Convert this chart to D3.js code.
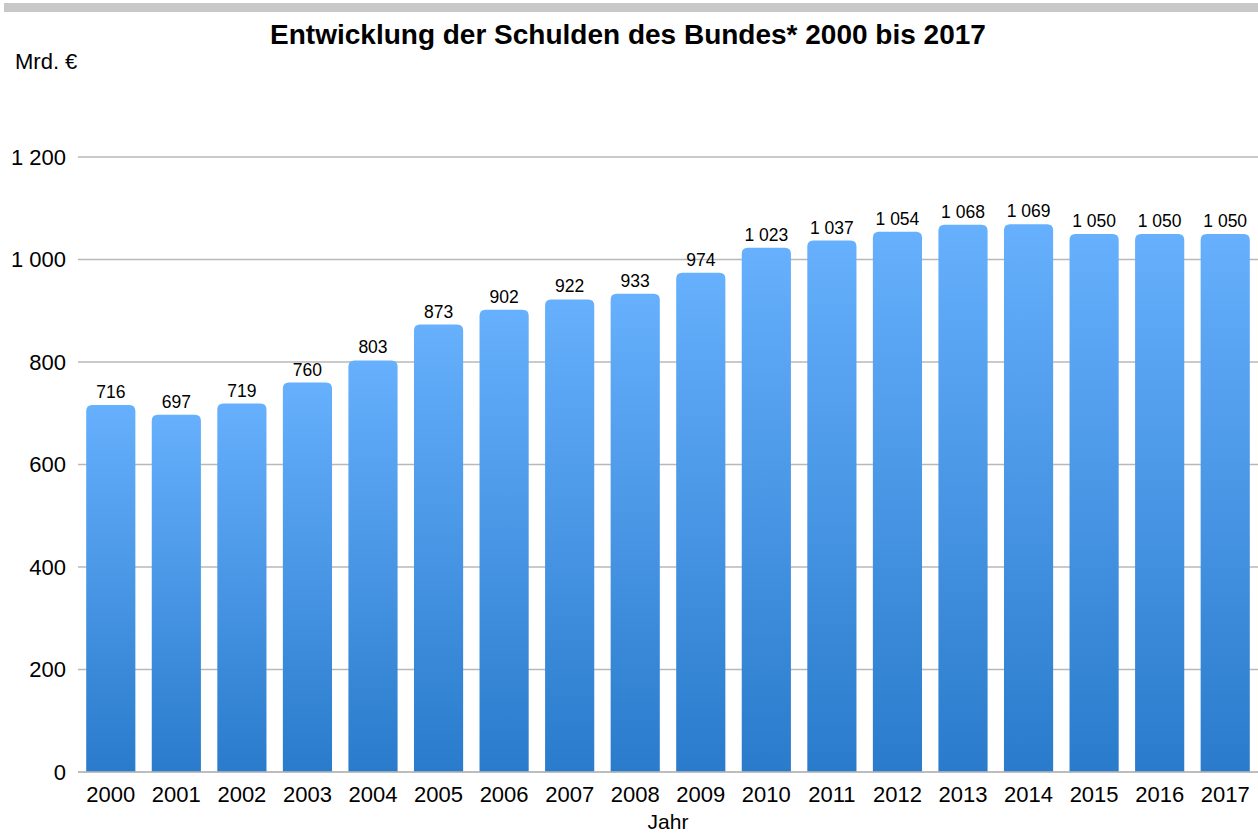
<!DOCTYPE html>
<html>
<head>
<meta charset="utf-8">
<script src="https://cdn.jsdelivr.net/npm/d3@7"></script>
<style>
  body { margin: 0; background: #fff; }
  svg { display: block; font-family: "Liberation Sans", Arial, sans-serif; }
</style>
</head>
<body>
<div id="chart"></div>
<script>
// Schulden des Bundes, Mrd. Euro
const years = ['2000', '2001', '2002', '2003', '2004', '2005', '2006', '2007', '2008',
  '2009', '2010', '2011', '2012', '2013', '2014', '2015', '2016', '2017'];
const debt = [716, 697, 719, 760, 803, 873, 902, 922, 933, 974, 1023, 1037, 1054, 1068, 1069, 1050, 1050, 1050];
const yTicks = [0, 200, 400, 600, 800, 1000, 1200];

const width = 1258;
const height = 836;
const margin = { top: 157, right: 0, bottom: 64, left: 78 };

const fmt = (v) => d3.format(',')(v).replace(/,/g, ' ');

function drawChart() {
  const svg = d3.select('#chart').append('svg').attr('width', width).attr('height', height);

  const defs = svg.append('defs');
  const grad = defs.append('linearGradient').attr('id', 'barGrad').attr('x1', 0).attr('y1', 0).attr('x2', 0).attr('y2', 1);
  grad.append('stop').attr('offset', '0%').attr('stop-color', '#66b0fd');
  grad.append('stop').attr('offset', '100%').attr('stop-color', '#2a7bcc');

  // grey strip on top
  svg.append('rect').attr('x', 4).attr('y', 3).attr('width', width - 4).attr('height', 9).attr('fill', '#c8c8c8');

  svg.append('text')
    .attr('x', 628).attr('y', 44)
    .attr('text-anchor', 'middle')
    .attr('font-size', 28).attr('font-weight', 'bold')
    .text('Entwicklung der Schulden des Bundes* 2000 bis 2017');

  svg.append('text').attr('x', 15).attr('y', 69).attr('font-size', 22).text('Mrd. €');

  const x = d3.scaleBand().domain(years).range([margin.left, width - margin.right]).paddingInner(0.25).paddingOuter(0.125);
  const y = d3.scaleLinear().domain([0, 1200]).range([height - margin.bottom, margin.top]);

  // gridlines
  svg.append('g').selectAll('line').data(yTicks).join('line')
    .attr('x1', margin.left).attr('x2', width - margin.right)
    .attr('y1', (d) => y(d)).attr('y2', (d) => y(d))
    .attr('stroke', '#b8b8b8').attr('stroke-width', 1.3);

  svg.append('g').selectAll('text').data(yTicks).join('text')
    .attr('x', 66).attr('y', (d) => y(d)).attr('dy', '0.36em')
    .attr('text-anchor', 'end').attr('font-size', 22)
    .text((d) => fmt(d));

  // bars with rounded tops
  const r = 6;
  svg.append('g').selectAll('path').data(years).join('path')
    .attr('fill', 'url(#barGrad)')
    .attr('d', (d, i) => {
      const x0 = x(d), w = x.bandwidth(), y0 = y(debt[i]), y1 = y(0);
      return `M${x0},${y1}V${y0 + r}Q${x0},${y0} ${x0 + r},${y0}H${x0 + w - r}Q${x0 + w},${y0} ${x0 + w},${y0 + r}V${y1}Z`;
    });

  svg.append('g').selectAll('text').data(years).join('text')
    .attr('x', (d) => x(d) + x.bandwidth() / 2)
    .attr('y', (d, i) => y(debt[i]) - 7)
    .attr('text-anchor', 'middle').attr('font-size', 17.5)
    .text((d, i) => fmt(debt[i]));

  // baseline
  svg.append('line').attr('x1', margin.left).attr('x2', width - margin.right)
    .attr('y1', y(0)).attr('y2', y(0)).attr('stroke', '#b8b8b8').attr('stroke-width', 1.3);

  svg.append('g').selectAll('text').data(years).join('text')
    .attr('x', (d) => x(d) + x.bandwidth() / 2)
    .attr('y', 802)
    .attr('text-anchor', 'middle').attr('font-size', 22)
    .text((d) => d);

  svg.append('text').attr('x', 668).attr('y', 829).attr('text-anchor', 'middle').attr('font-size', 21).text('Jahr');
}

document.addEventListener('DOMContentLoaded', drawChart);
</script>
</body>
</html>
